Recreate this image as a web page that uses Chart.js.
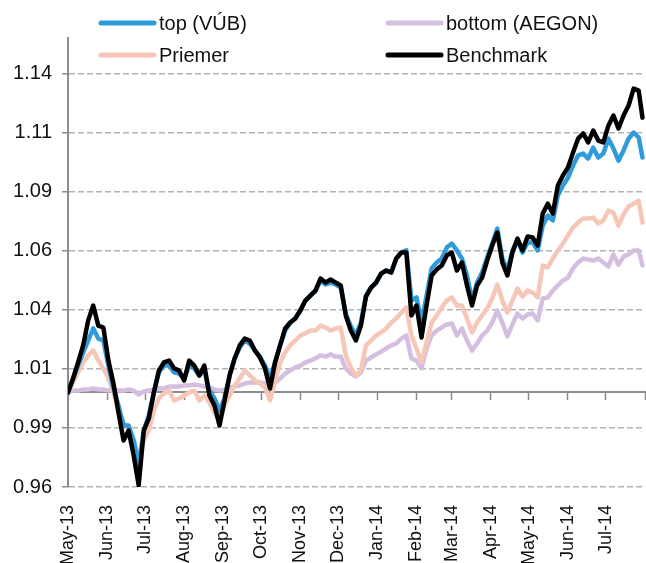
<!DOCTYPE html>
<html>
<head>
<meta charset="utf-8">
<script src="https://cdn.jsdelivr.net/npm/chart.js@4.4.1/dist/chart.umd.min.js"></script>
<style>
html,body{margin:0;padding:0;background:#ffffff;overflow:hidden}
#wrap{position:relative;width:646px;height:563px}
</style>
</head>
<body>
<div id="wrap"><canvas id="c" width="646" height="563"></canvas></div>
<script>
// ---------- data ----------
const dates = [
 "2013-05-01","2013-05-05","2013-05-09","2013-05-13","2013-05-17","2013-05-21","2013-05-25","2013-05-29","2013-06-02","2013-06-06",
 "2013-06-10","2013-06-14","2013-06-18","2013-06-22","2013-06-26","2013-06-30","2013-07-04","2013-07-08","2013-07-12","2013-07-16",
 "2013-07-20","2013-07-24","2013-07-28","2013-08-01","2013-08-05","2013-08-09","2013-08-13","2013-08-17","2013-08-21","2013-08-25",
 "2013-08-29","2013-09-02","2013-09-06","2013-09-10","2013-09-14","2013-09-18","2013-09-22","2013-09-26","2013-09-30","2013-10-04",
 "2013-10-08","2013-10-12","2013-10-16","2013-10-20","2013-10-24","2013-10-28","2013-11-01","2013-11-05","2013-11-09","2013-11-13",
 "2013-11-17","2013-11-21","2013-11-25","2013-11-29","2013-12-03","2013-12-07","2013-12-11","2013-12-15","2013-12-19","2013-12-23",
 "2013-12-27","2013-12-31","2014-01-04","2014-01-08","2014-01-12","2014-01-16","2014-01-20","2014-01-24","2014-01-28","2014-02-01",
 "2014-02-05","2014-02-09","2014-02-13","2014-02-17","2014-02-21","2014-02-25","2014-03-01","2014-03-05","2014-03-09","2014-03-13",
 "2014-03-17","2014-03-21","2014-03-25","2014-03-29","2014-04-02","2014-04-06","2014-04-10","2014-04-14","2014-04-18","2014-04-22",
 "2014-04-26","2014-04-30","2014-05-04","2014-05-08","2014-05-12","2014-05-16","2014-05-20","2014-05-24","2014-05-28","2014-06-01",
 "2014-06-05","2014-06-09","2014-06-13","2014-06-17","2014-06-21","2014-06-25","2014-06-29","2014-07-03","2014-07-07","2014-07-11",
 "2014-07-15","2014-07-19","2014-07-23","2014-07-27","2014-07-30"
];

const topVUB = [
 1.0000,1.0059,1.0114,1.0169,1.0220,1.0271,1.0228,1.0220,1.0114,1.0017,
 0.9945,0.9860,0.9860,0.9797,0.9691,0.9839,0.9903,1.0000,1.0085,1.0114,
 1.0114,1.0085,1.0080,1.0059,1.0114,1.0102,1.0072,1.0093,1.0008,0.9975,
 0.9924,0.9975,1.0072,1.0144,1.0190,1.0220,1.0207,1.0178,1.0152,1.0114,
 1.0059,1.0127,1.0199,1.0262,1.0296,1.0313,1.0347,1.0389,1.0410,1.0431,
 1.0474,1.0457,1.0465,1.0457,1.0444,1.0334,1.0279,1.0245,1.0296,1.0410,
 1.0444,1.0465,1.0503,1.0516,1.0508,1.0567,1.0592,1.0601,1.0389,1.0402,
 1.0296,1.0410,1.0525,1.0550,1.0567,1.0613,1.0630,1.0601,1.0567,1.0495,
 1.0389,1.0465,1.0508,1.0571,1.0630,1.0694,1.0567,1.0516,1.0601,1.0643,
 1.0592,1.0635,1.0635,1.0601,1.0706,1.0749,1.0728,1.0833,1.0876,1.0909,
 1.0960,1.1003,1.1011,1.0990,1.1036,1.0994,1.1011,1.1074,1.1032,1.0981,
 1.1024,1.1074,1.1100,1.1079,1.0994
];

const bottomAEGON = [
 1.0000,1.0008,1.0008,1.0013,1.0013,1.0017,1.0013,1.0013,1.0008,1.0013,
 1.0008,1.0008,1.0013,1.0008,0.9992,1.0004,1.0008,1.0013,1.0017,1.0017,
 1.0025,1.0025,1.0025,1.0030,1.0030,1.0034,1.0030,1.0025,1.0021,1.0013,
 1.0008,1.0013,1.0021,1.0025,1.0030,1.0038,1.0042,1.0042,1.0042,1.0038,
 1.0021,1.0042,1.0059,1.0080,1.0093,1.0106,1.0114,1.0127,1.0135,1.0144,
 1.0157,1.0152,1.0161,1.0152,1.0152,1.0102,1.0080,1.0068,1.0085,1.0135,
 1.0148,1.0161,1.0173,1.0186,1.0199,1.0207,1.0228,1.0241,1.0144,1.0135,
 1.0102,1.0186,1.0241,1.0262,1.0275,1.0288,1.0292,1.0241,1.0271,1.0220,
 1.0178,1.0207,1.0241,1.0262,1.0296,1.0347,1.0296,1.0237,1.0288,1.0334,
 1.0313,1.0330,1.0334,1.0305,1.0398,1.0402,1.0431,1.0453,1.0474,1.0486,
 1.0525,1.0550,1.0567,1.0563,1.0558,1.0567,1.0550,1.0533,1.0584,1.0541,
 1.0575,1.0584,1.0601,1.0601,1.0537
];

const priemer = [
 1.0000,1.0042,1.0085,1.0127,1.0157,1.0178,1.0135,1.0102,1.0059,1.0000,
 0.9924,0.9873,0.9848,0.9797,0.9721,0.9797,0.9839,0.9924,0.9975,0.9996,
 1.0008,0.9966,0.9975,0.9987,1.0000,1.0008,0.9966,0.9987,0.9958,0.9915,
 0.9882,0.9945,0.9987,1.0030,1.0059,1.0093,1.0072,1.0051,1.0038,1.0021,
 0.9966,1.0051,1.0127,1.0169,1.0199,1.0220,1.0241,1.0250,1.0262,1.0262,
 1.0283,1.0275,1.0262,1.0271,1.0275,1.0157,1.0106,1.0072,1.0093,1.0199,
 1.0220,1.0241,1.0254,1.0271,1.0296,1.0313,1.0338,1.0360,1.0241,1.0186,
 1.0127,1.0212,1.0296,1.0326,1.0360,1.0389,1.0402,1.0368,1.0368,1.0313,
 1.0254,1.0296,1.0326,1.0355,1.0398,1.0457,1.0389,1.0338,1.0389,1.0440,
 1.0406,1.0431,1.0423,1.0402,1.0537,1.0529,1.0567,1.0601,1.0630,1.0664,
 1.0698,1.0719,1.0736,1.0736,1.0740,1.0715,1.0728,1.0770,1.0761,1.0706,
 1.0753,1.0787,1.0799,1.0812,1.0719
];

const benchmark = [
 1.0000,1.0059,1.0127,1.0199,1.0305,1.0368,1.0283,1.0275,1.0135,1.0038,
 0.9915,0.9797,0.9839,0.9734,0.9607,0.9839,0.9890,1.0000,1.0093,1.0127,
 1.0135,1.0102,1.0093,1.0051,1.0135,1.0114,1.0072,1.0114,0.9987,0.9945,
 0.9860,0.9966,1.0072,1.0144,1.0199,1.0228,1.0220,1.0178,1.0148,1.0102,
 1.0017,1.0127,1.0199,1.0271,1.0296,1.0313,1.0347,1.0389,1.0410,1.0431,
 1.0482,1.0465,1.0478,1.0465,1.0453,1.0326,1.0262,1.0220,1.0283,1.0406,
 1.0444,1.0465,1.0503,1.0516,1.0508,1.0567,1.0592,1.0592,1.0326,1.0368,
 1.0233,1.0368,1.0495,1.0520,1.0537,1.0580,1.0592,1.0516,1.0550,1.0453,
 1.0368,1.0453,1.0486,1.0558,1.0622,1.0677,1.0550,1.0495,1.0592,1.0651,
 1.0601,1.0660,1.0656,1.0622,1.0757,1.0799,1.0757,1.0876,1.0918,1.0952,
 1.1015,1.1074,1.1096,1.1058,1.1108,1.1066,1.1058,1.1129,1.1172,1.1117,
 1.1172,1.1214,1.1286,1.1277,1.1163
];

const monthTickDates = [
 "2013-05-01","2013-06-01","2013-07-01","2013-08-01","2013-09-01","2013-10-01","2013-11-01","2013-12-01",
 "2014-01-01","2014-02-01","2014-03-01","2014-04-01","2014-05-01","2014-06-01","2014-07-01","2014-08-01"
];
const monthLabels = [
 "May-13","Jun-13","Jul-13","Aug-13","Sep-13","Oct-13","Nov-13","Dec-13",
 "Jan-14","Feb-14","Mar-14","Apr-14","May-14","Jun-14","Jul-14",""
];

const yTickValues = [0.96, 0.985, 1.01, 1.035, 1.06, 1.085, 1.11, 1.135];
const yTickLabels = ["0.96","0.99","1.01","1.04","1.06","1.09","1.11","1.14"];
const yMin = 0.96, yMax = 1.15, xAxisCrossValue = 1.0;

// ---------- helpers ----------
const FONT = "'Liberation Sans', Arial, Helvetica, sans-serif";
function toDay(s){ const p = s.split('-').map(Number); return Date.UTC(p[0], p[1]-1, p[2]) / 86400000; }
const xs = dates.map(toDay);
const monthDays = monthTickDates.map(toDay);
const xMin = monthDays[0], xMax = monthDays[monthDays.length-1];

function series(label, values, color, order, width){
  return {
    label, data: values.map((v,i)=>({x: xs[i], y: v})),
    borderColor: color, backgroundColor: color, borderWidth: width,
    pointRadius: 0, pointHoverRadius: 0, tension: 0, order,
    borderJoinStyle: 'round', borderCapStyle: 'round',
    xAxisID: 'x', yAxisID: 'y'
  };
}

const gridLegend = {
  id: 'gridLegend',
  afterDraw(chart){
    const ctx = chart.ctx, a = chart.chartArea;
    ctx.save();
    ctx.font = "20px " + FONT;
    ctx.textBaseline = 'middle';
    ctx.textAlign = 'left';
    chart.data.datasets.forEach((ds, i) => {
      const col = i % 2, row = Math.floor(i / 2);
      const x = a.left + 33 + col * 287;
      const y = 23 + row * 32;
      ctx.strokeStyle = ds.borderColor;
      ctx.lineWidth = 5;
      ctx.lineCap = 'round';
      ctx.beginPath(); ctx.moveTo(x, y); ctx.lineTo(x + 53, y); ctx.stroke();
      ctx.fillStyle = '#111111';
      ctx.fillText(ds.label, x + 58, y + 1);
    });
    ctx.restore();
  }
};

new Chart(document.getElementById('c'), {
  type: 'line',
  data: {
    datasets: [
      series('top (VÚB)', topVUB, '#2f9bdb', 1, 4.5),
      series('bottom (AEGON)', bottomAEGON, '#d5bfe0', 3, 4.5),
      series('Priemer', priemer, '#f6c7b7', 2, 4.5),
      series('Benchmark', benchmark, '#000000', 0, 4.5)
    ]
  },
  options: {
    responsive: false,
    animation: false,
    devicePixelRatio: 1,
    layout: { padding: { top: 38, right: 1, left: 0, bottom: 0 } },
    plugins: { legend: { display: false }, tooltip: { enabled: false } },
    scales: {
      x: {
        type: 'linear', position: 'bottom', min: xMin, max: xMax,
        afterBuildTicks: s => { s.ticks = monthDays.map(v => ({ value: v })); },
        afterFit: s => { s.height = 76; s.paddingLeft = 0; s.paddingRight = 0; },
        grid: { display: false },
        border: { display: false },
        ticks: {
          autoSkip: false, maxRotation: 90, minRotation: 90, padding: 10,
          color: '#111111', font: { family: FONT, size: 18 },
          callback: (v, i) => monthLabels[i]
        }
      },
      x2: {
        axis: 'x', type: 'linear', position: { y: xAxisCrossValue }, min: xMin, max: xMax,
        afterBuildTicks: s => { s.ticks = monthDays.map(v => ({ value: v })); },
        afterFit: s => { s.paddingLeft = 0; s.paddingRight = 0; },
        grid: { display: true, drawOnChartArea: false, drawTicks: true, tickLength: 7,
                tickColor: '#8c8c8c', tickWidth: 1.5, tickBorderDash: [] },
        border: { display: true, color: '#8c8c8c', width: 2 },
        ticks: { display: false }
      },
      y: {
        type: 'linear', position: 'left', min: yMin, max: yMax,
        afterBuildTicks: s => { s.ticks = yTickValues.map(v => ({ value: v })); },
        afterFit: s => { s.width = 68; s.paddingTop = 0; s.paddingBottom = 0; },
        grid: { color: '#b3b3b3', lineWidth: 1.5, drawTicks: true, tickLength: 6,
                tickColor: '#8c8c8c', tickWidth: 1.5, tickBorderDash: [] },
        border: { display: true, color: '#8c8c8c', width: 2, dash: [6, 3] },
        ticks: {
          padding: 10, color: '#111111', font: { family: FONT, size: 20 },
          callback: (v, i) => yTickLabels[i]
        }
      }
    }
  },
  plugins: [gridLegend]
});
</script>
</body>
</html>
